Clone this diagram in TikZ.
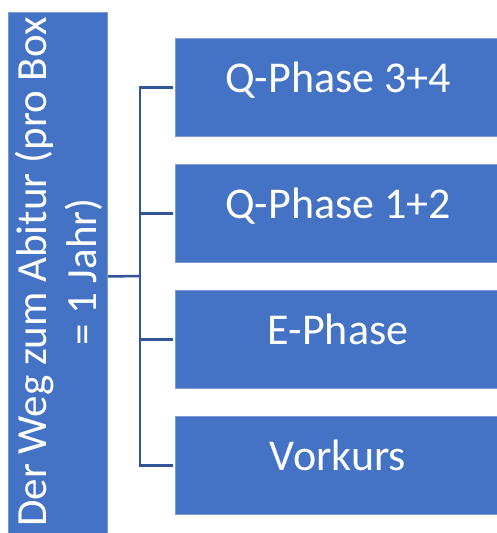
\documentclass[tikz,border=0pt]{standalone}
\usepackage{fontspec}
\setmainfont{Carlito}
\definecolor{boxfill}{HTML}{4472C4}
\definecolor{boxline}{HTML}{7A9AD4}
\definecolor{conn}{HTML}{2F5597}
\begin{document}
\begin{tikzpicture}[x=1pt,y=1pt,
  phasebox/.style={draw=boxline,line width=1pt,fill=boxfill,text=white,
    minimum width=325pt,minimum height=98pt,inner sep=0pt,anchor=north west,
    text height=30pt,text depth=19pt,
    font=\fontsize{44}{50}\selectfont},
  connline/.style={draw=conn,line width=2.5pt}]
\useasboundingbox (0,0) rectangle (497,533);
\node[draw=boxline,line width=1pt,fill=boxfill,minimum width=99pt,minimum height=528pt,
  inner sep=0pt,anchor=north west] (L) at (8,521) {};
\node[rotate=90,text=white,align=center,font=\fontsize{43}{50}\selectfont,inner sep=0pt]
  (Lt) at (59,261) {Der Weg zum Abitur (pro Box\\= 1 Jahr)};
\node[phasebox] (b1) at (175,495) {Q-Phase 3+4};
\node[phasebox] (b2) at (175,369) {Q-Phase 1+2};
\node[phasebox] (b3) at (175,243) {E-Phase};
\node[phasebox] (b4) at (175,117) {Vorkurs};
\coordinate (j) at (140,257);
\draw[connline] (L.east) -- (j);
\draw[connline] (j) |- ([xshift=-2pt]b1.west);
\draw[connline] (j) |- ([xshift=-2pt]b2.west);
\draw[connline] (j) |- ([xshift=-2pt]b3.west);
\draw[connline] (j) |- ([xshift=-2pt]b4.west);
\end{tikzpicture}
\end{document}
